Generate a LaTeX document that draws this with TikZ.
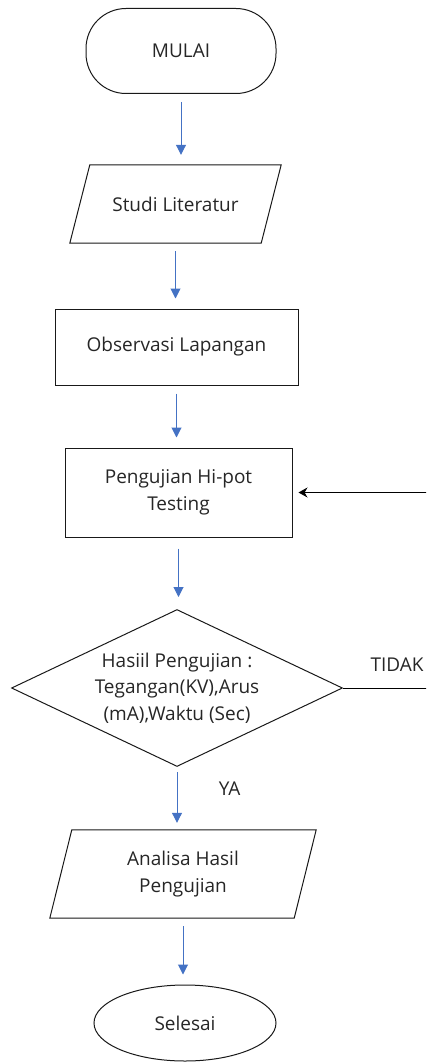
\documentclass[tikz,border=0pt]{standalone}
\usepackage{fontspec}
\setmainfont{Open Sans}
\usetikzlibrary{shapes.geometric,arrows.meta}

\definecolor{flowblue}{HTML}{4472C4}

\tikzset{
  outline/.style={draw=black!90, line width=1pt},
  box/.style={outline, text=black!85, align=center},
  terminal/.style={box, rectangle, rounded corners=40pt},
  io/.style={rectangle, text=black!85, align=center},
  decision/.style={box, diamond, shape aspect=2.1, inner sep=0pt},
  flow/.style={flowblue, line width=1pt, -{Triangle[width=10pt,length=10pt]},
    shorten <=8pt, shorten >=10pt},
  back/.style={black, line width=1pt, -{Stealth[width=10pt,length=9pt]}, shorten >=6pt}
}

\begin{document}
\begin{tikzpicture}[x=1pt,y=-1pt,font=\fontsize{19}{26.5}\selectfont]
  \useasboundingbox (0,0) rectangle (426,1062);
  \clip (0,0) rectangle (426,1062);

  \node[terminal, minimum width=190pt, minimum height=85pt] (mulai) at (181,51) {MULAI};
  \node[io, minimum width=211pt, minimum height=78pt] (studi) at (175.5,204) {Studi Literatur};
  \node[box, minimum width=243pt, minimum height=76pt] (obs) at (176.5,347) {Observasi Lapangan};
  \node[box, minimum width=227pt, minimum height=89pt] (uji) at (178.5,492.5) {Pengujian Hi-pot\\Testing};
  \node[decision, minimum width=331pt, minimum height=157pt] (hasil) at (177,688)
    {Hasiil Pengujian :\\Tegangan(KV),Arus\\(mA),Waktu (Sec)};
  \node[io, minimum width=266pt, minimum height=88pt] (analisa) at (183,874) {Analisa Hasil\\Pengujian};
  \node[box, ellipse, minimum width=182pt, minimum height=76pt] (selesai) at (185,1023) {Selesai};

  % jajaran genjang input/output
  \foreach \n/\s in {studi/20, analisa/22}
    \draw[outline] ([xshift=\s pt]\n.north west) -- (\n.north east)
      -- ([xshift=-\s pt]\n.south east) -- (\n.south west) -- cycle;

  \coordinate (balik) at (432,688);

  % alur utama
  \draw[flow] (mulai.south) -- (mulai.south |- studi.north);
  \draw[flow] (studi.south) -- (studi.south |- obs.north);
  \draw[flow] (obs.south) -- (obs.south |- uji.north);
  \draw[flow, shorten <=11pt, shorten >=12pt] (uji.south) -- (uji.south |- hasil.north);
  \draw[flow, shorten <=5pt, shorten >=7pt] (hasil.south) -- (hasil.south |- analisa.north)
    node[pos=0.35, right=38pt, text=black!85] (ya) {YA};
  \draw[flow] (analisa.south) -- (analisa.south |- selesai.north);

  % kembali ke pengujian
  \draw[back] (hasil.east) -- (balik) |- (uji.east);
  \node[text=black!85] (tidak) at (397,665) {TIDAK};
\end{tikzpicture}
\end{document}
